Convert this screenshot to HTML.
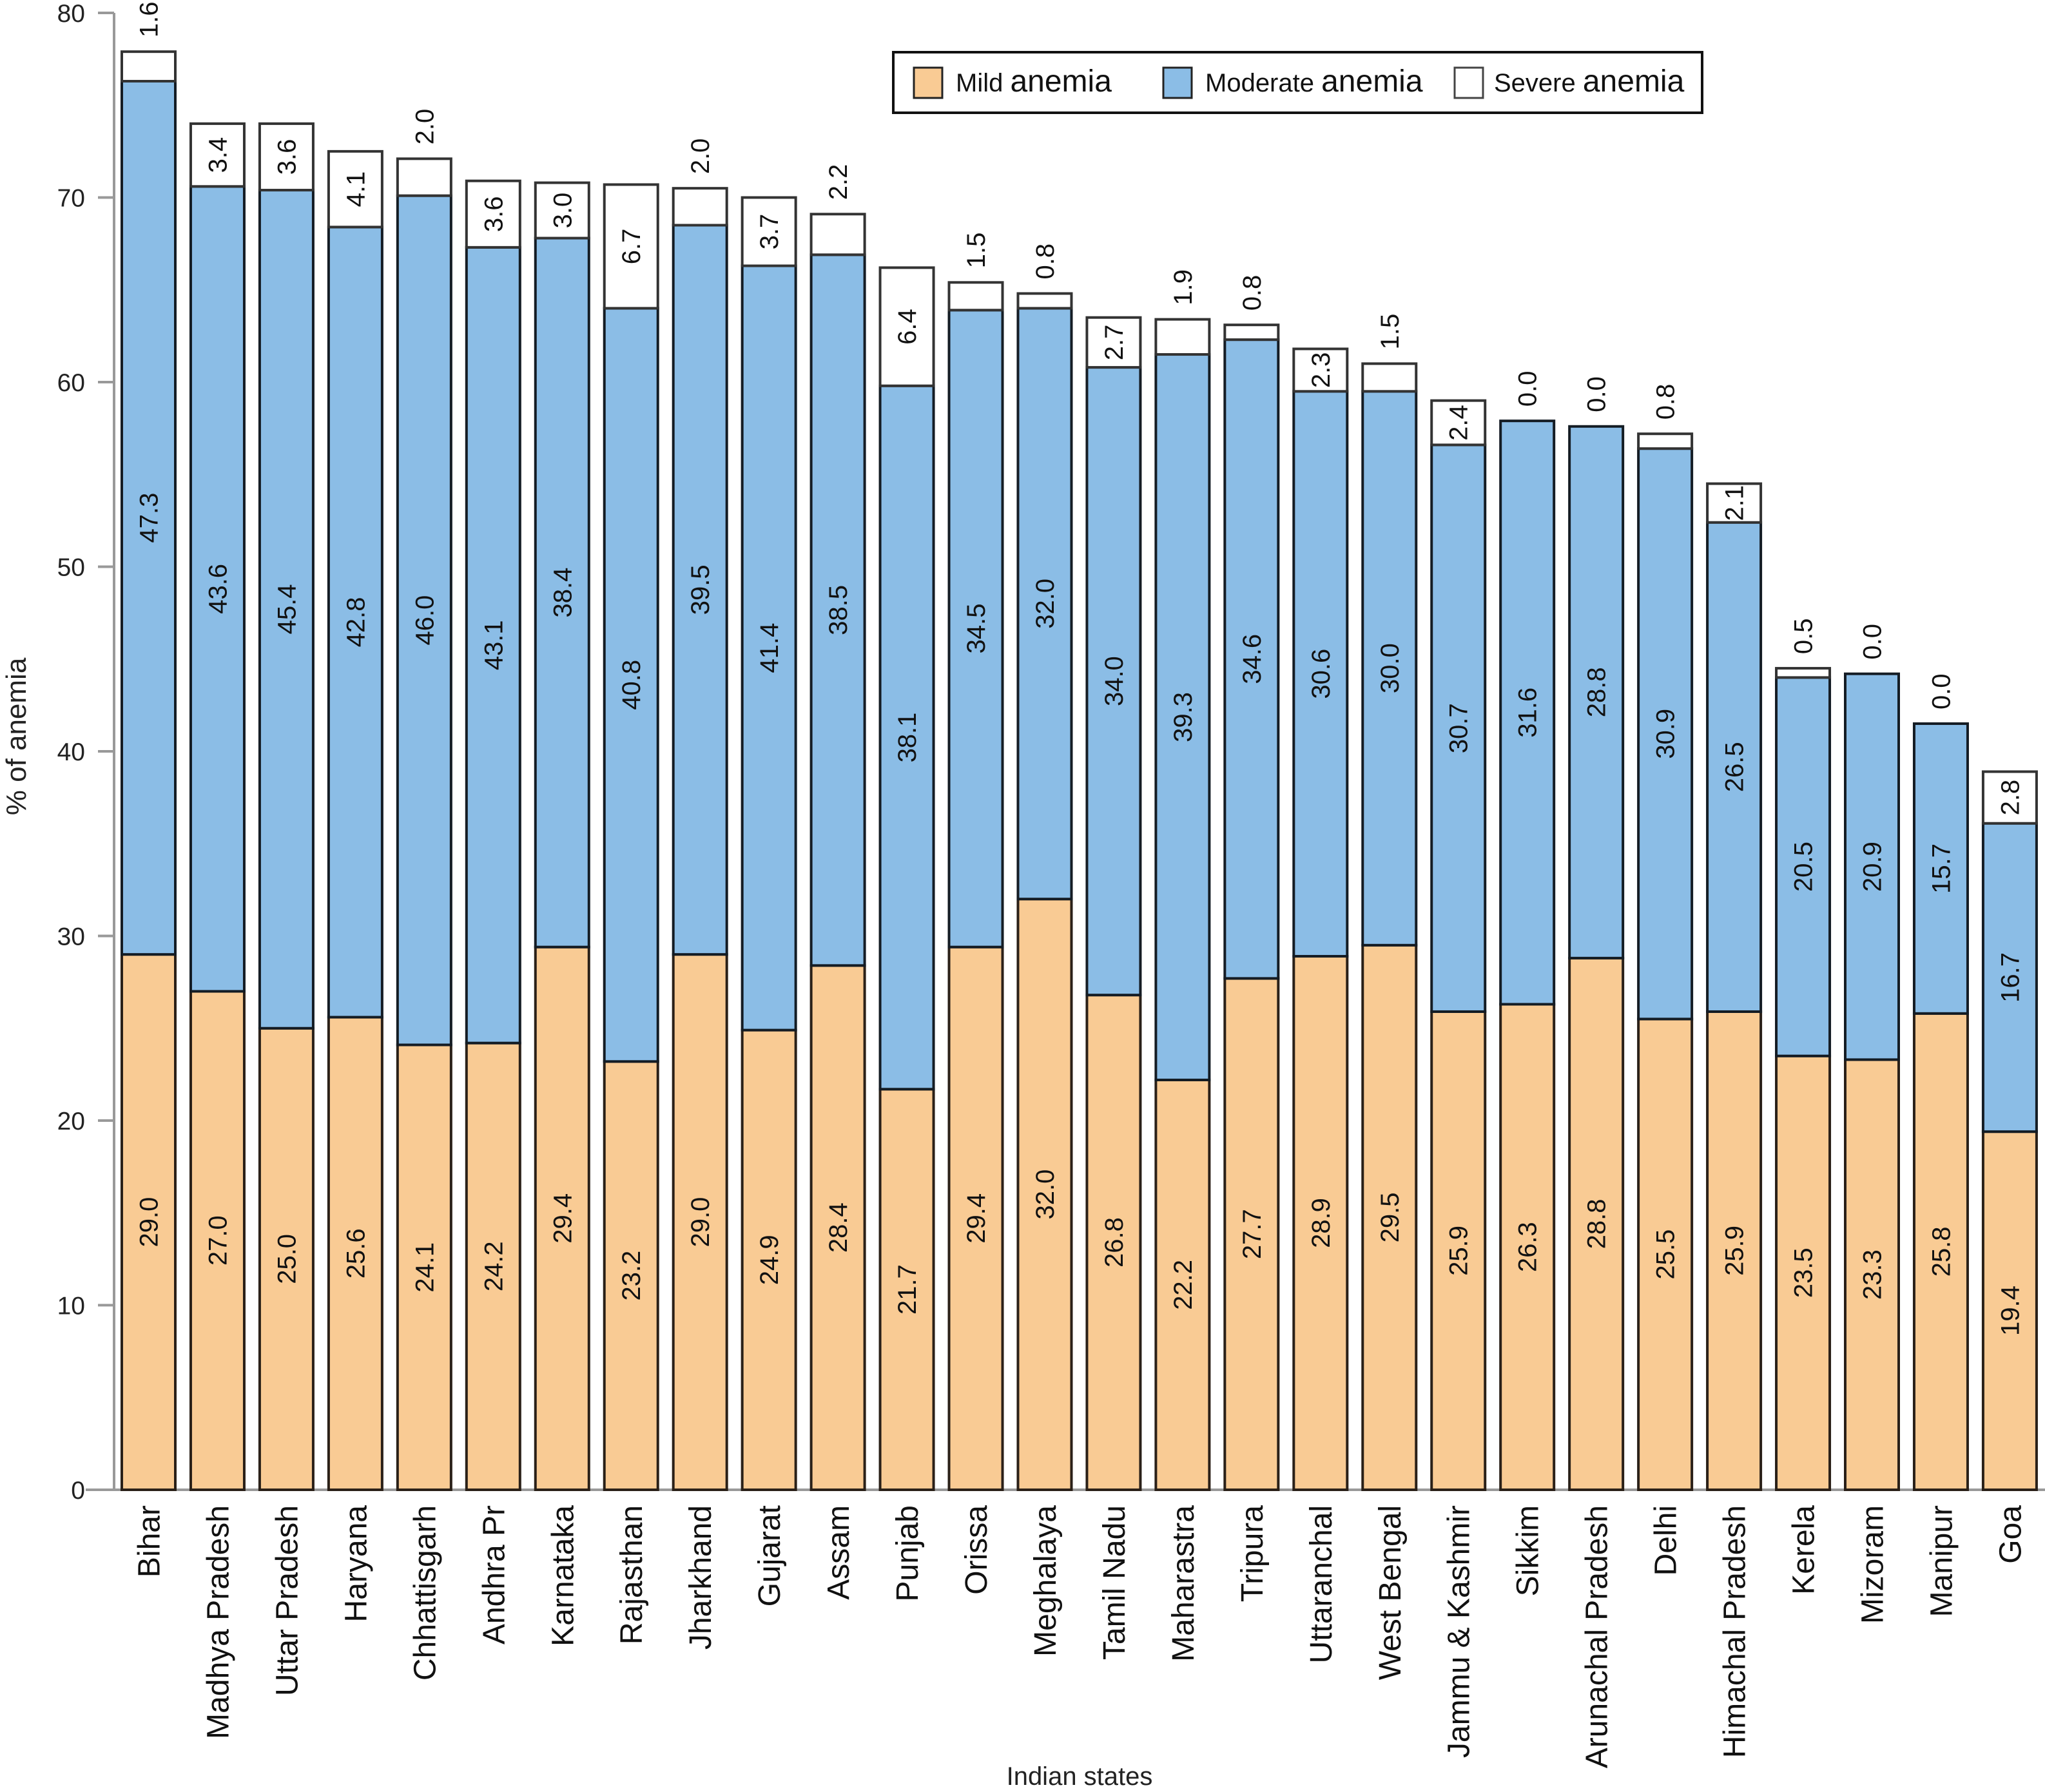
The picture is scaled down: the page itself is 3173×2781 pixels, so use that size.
<!DOCTYPE html>
<html><head><meta charset="utf-8"><style>
body{margin:0;background:#fff}
svg{display:block;font-family:"Liberation Sans",Arial,sans-serif}
</style></head><body>
<svg id="chart" xmlns="http://www.w3.org/2000/svg" width="3173" height="2781" viewBox="0 0 3173 2781">
<g id="axes"></g>
<g id="bars"></g>
<g id="labels"></g>
<g id="cats"></g>
<text transform="translate(40,1143) rotate(-90)" text-anchor="middle" font-size="44" fill="#222">% of anemia</text>
<text x="1675" y="2770" text-anchor="middle" font-size="40" fill="#222">Indian states</text>
<g>
<rect x="1386" y="81" width="1255" height="94" fill="#fff" stroke="#111" stroke-width="4"/>
<rect x="1418" y="105" width="44" height="47" fill="#F9CB94" stroke="#222" stroke-width="3"/>
<text x="1483" y="142" font-size="40" fill="#111">Mild <tspan font-size="48">anemia</tspan></text>
<rect x="1805" y="105" width="44" height="47" fill="#8BBDE6" stroke="#222" stroke-width="3"/>
<text x="1870" y="142" font-size="40" fill="#111">Moderate <tspan font-size="48">anemia</tspan></text>
<rect x="2257" y="105" width="44" height="47" fill="#fff" stroke="#444" stroke-width="3"/>
<text x="2318" y="142" font-size="40" fill="#111">Severe <tspan font-size="48">anemia</tspan></text>
</g>
</svg>
<script>
const states=["Bihar","Madhya Pradesh","Uttar Pradesh","Haryana","Chhattisgarh","Andhra Pr","Karnataka","Rajasthan","Jharkhand","Gujarat","Assam","Punjab","Orissa","Meghalaya","Tamil Nadu","Maharastra","Tripura","Uttaranchal","West Bengal","Jammu & Kashmir","Sikkim","Arunachal Pradesh","Delhi","Himachal Pradesh","Kerela","Mizoram","Manipur","Goa"];
const mild=[29.0,27.0,25.0,25.6,24.1,24.2,29.4,23.2,29.0,24.9,28.4,21.7,29.4,32.0,26.8,22.2,27.7,28.9,29.5,25.9,26.3,28.8,25.5,25.9,23.5,23.3,25.8,19.4];
const moderate=[47.3,43.6,45.4,42.8,46.0,43.1,38.4,40.8,39.5,41.4,38.5,38.1,34.5,32.0,34.0,39.3,34.6,30.6,30.0,30.7,31.6,28.8,30.9,26.5,20.5,20.9,15.7,16.7];
const severe=[1.6,3.4,3.6,4.1,2.0,3.6,3.0,6.7,2.0,3.7,2.2,6.4,1.5,0.8,2.7,1.9,0.8,2.3,1.5,2.4,0.0,0.0,0.8,2.1,0.5,0.0,0.0,2.8];
const severeInside=[0,1,1,1,0,1,1,1,0,1,0,1,0,0,1,0,0,1,0,1,0,0,0,1,0,0,0,1];
const yTicks=[0,10,20,30,40,50,60,70,80];

const NS="http://www.w3.org/2000/svg";
const Y0=2312, TOP=20, X0=189, PITCH=106.96, BW=83;
const PXU=(Y0-TOP)/80;
const y=v=>Y0-v*PXU;
const x=i=>X0+i*PITCH;
function mk(tag,attrs,parent,txt){const e=document.createElementNS(NS,tag);for(const k in attrs)e.setAttribute(k,attrs[k]);if(txt!==undefined)e.textContent=txt;parent.appendChild(e);return e;}
const axes=document.getElementById('axes'),bars=document.getElementById('bars'),labels=document.getElementById('labels'),cats=document.getElementById('cats');

let l=mk('line',{x1:177,y1:y(80),x2:177,y2:Y0,stroke:'#999','stroke-width':4},axes);


l=mk('line',{x1:133,y1:Y0,x2:3173,y2:Y0,stroke:'#999','stroke-width':4},axes);


yTicks.forEach(t=>{
  const tk=mk('line',{x1:152,y1:y(t),x2:177,y2:y(t),stroke:'#999','stroke-width':4},axes);
  
  
  const tl=mk('text',{x:132,y:y(t)+14,'text-anchor':'end','font-size':39,fill:'#222'},axes,String(t));
  
  
});

function vlabel(cx,cy,val,anchor){
  const t=mk('text',{transform:`translate(${cx+14},${cy}) rotate(-90)`,'text-anchor':anchor,'font-size':40,fill:'#111'},labels,val.toFixed(1));
  
  
}
states.forEach((s,i)=>{
  const bx=x(i), cx=bx+BW/2;
  const segs=[[0,mild[i],'#F9CB94','#2a2018','mild'],[mild[i],mild[i]+moderate[i],'#8BBDE6','#141c24','moderate'],[mild[i]+moderate[i],mild[i]+moderate[i]+severe[i],'#fff','#333','severe']];
  segs.forEach(([a,b,f,st,nm])=>{
    if(b-a<=0)return;
    const r=mk('rect',{x:bx,y:y(b),width:BW,height:y(a)-y(b),fill:f,stroke:st,'stroke-width':4},bars);
    
    
  });
  vlabel(cx,y(mild[i]/2),mild[i],'middle');
  vlabel(cx,y(mild[i]+moderate[i]/2),moderate[i],'middle');
  const top=mild[i]+moderate[i]+severe[i];
  if(severeInside[i]) vlabel(cx,y(top-severe[i]/2),severe[i],'middle');
  else vlabel(cx,y(top)-22,severe[i],'start');
  const c=mk('text',{transform:`translate(${cx+17},2336) rotate(-90)`,'text-anchor':'end','font-size':48,fill:'#111'},cats,s);
  
  
});
</script>
</body></html>
